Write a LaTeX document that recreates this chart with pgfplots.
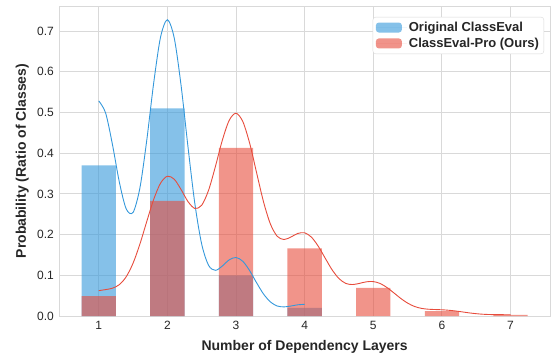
\documentclass[border=0pt]{standalone}
\usepackage{fontspec}
\setmainfont{Liberation Sans}
\usepackage{pgfplots}
\pgfplotsset{compat=1.18}
\definecolor{cblue}{HTML}{3498DB}
\definecolor{cred}{HTML}{E74C3C}
\definecolor{gridc}{HTML}{D9D9D9}
\definecolor{txt}{HTML}{262626}
\begin{document}
\begin{tikzpicture}
\begin{axis}[
  scale only axis, width=490.7pt, height=310pt,
  xmin=0.425, xmax=7.575, ymin=0, ymax=0.7615,
  xtick={1,2,3,4,5,6,7},
  ytick={0,0.1,0.2,0.3,0.4,0.5,0.6,0.7},
  yticklabel style={/pgf/number format/fixed, /pgf/number format/precision=1, /pgf/number format/fixed zerofill, xshift=-2pt},
  xticklabel style={yshift=-2pt},
  /pgf/number format/assume math mode=true,
  tick label style={font=\fontsize{12}{14}\selectfont, text=txt},
  major tick length=0pt,
  grid=major,
  major grid style={gridc, line width=0.9pt},
  axis line style={gridc, line width=0.9pt},
  xlabel={Number of Dependency Layers},
  ylabel={Probability (Ratio of Classes)},
  label style={font=\bfseries\fontsize{14}{16}\selectfont, text=txt},
  xlabel style={at={(axis description cs:0.5,-0.1)}, anchor=center},
  ylabel style={at={(axis description cs:-0.0754,0.5)}, anchor=center},
  legend cell align=left,
  legend style={font=\bfseries\fontsize{13}{15}\selectfont, text=txt, draw=gridc, rounded corners=3pt,
    fill=white, at={(rel axis cs:0.988,0.965)}, anchor=north east,
    inner xsep=3pt, inner ysep=3pt, row sep=1pt},
]
\addplot[ybar, bar width=0.5, bar shift=0pt, draw=none, fill=cblue, fill opacity=0.6,
  legend image code/.code={\fill[cblue, fill opacity=0.6] (0pt,-5pt) rectangle (26pt,5pt); \path (0pt,0pt) -- (31pt,0pt);}]
  coordinates {(1,0.37)(2,0.51)(3,0.10)(4,0.02)};
\addlegendentry{Original ClassEval}
\addplot[ybar, bar width=0.5, bar shift=0pt, draw=none, fill=cred, fill opacity=0.6,
  legend image code/.code={\fill[cred, fill opacity=0.6] (0pt,-5pt) rectangle (26pt,5pt); \path (0pt,0pt) -- (31pt,0pt);}]
  coordinates {(1,0.049)(2,0.283)(3,0.413)(4,0.166)(5,0.069)(6,0.012)(7,0.0025)};
\addlegendentry{ClassEval-Pro (Ours)}
\addplot[cblue, line width=0.9pt, smooth, forget plot] coordinates {
(1.0,0.5284)(1.1,0.4987)(1.2,0.4207)(1.3,0.3288)(1.4,0.2631)(1.5,0.2546)(1.6,0.3150)(1.7,0.4325)(1.8,0.5719)(1.9,0.6848)
(2.0,0.7277)(2.1,0.6827)(2.2,0.5655)(2.3,0.4156)(2.4,0.2762)(2.5,0.1764)(2.6,0.1245)(2.7,0.1122)(2.8,0.1227)(2.9,0.1379)
(3.0,0.1438)(3.1,0.1342)(3.2,0.1110)(3.3,0.0816)(3.4,0.0543)(3.5,0.0347)(3.6,0.0246)(3.7,0.0224)(3.8,0.0245)(3.9,0.0275)
(4.0,0.0287)};
\addplot[cred, line width=0.9pt, smooth, forget plot] coordinates {
(1.0,0.0623)(1.1,0.0649)(1.2,0.0683)(1.3,0.0771)(1.4,0.0964)(1.5,0.1298)(1.6,0.1770)(1.7,0.2325)(1.8,0.2862)(1.9,0.3262)
(2.0,0.3434)(2.1,0.3359)(2.2,0.3105)(2.3,0.2811)(2.4,0.2641)(2.5,0.2721)(2.6,0.3089)(2.7,0.3675)(2.8,0.4314)(2.9,0.4804)
(3.0,0.4981)(3.1,0.4773)(3.2,0.4235)(3.3,0.3518)(3.4,0.2809)(3.5,0.2264)(3.6,0.1958)(3.7,0.1879)(3.8,0.1940)(3.9,0.2028)
(4.0,0.2044)(4.1,0.1935)(4.2,0.1710)(4.3,0.1419)(4.4,0.1135)(4.5,0.0919)(4.6,0.0800)(4.7,0.0773)(4.8,0.0802)(4.9,0.0840)
(5.0,0.0846)(5.1,0.0799)(5.2,0.0699)(5.3,0.0568)(5.4,0.0432)(5.5,0.0317)(5.6,0.0235)(5.7,0.0188)(5.8,0.0167)(5.9,0.0159)
(6.0,0.0153)(6.1,0.0141)(6.2,0.0123)(6.3,0.0100)(6.4,0.0076)(6.5,0.0057)(6.6,0.0043)(6.7,0.0036)(6.8,0.0033)(6.9,0.0032)
(7.0,0.0032)};
\end{axis}
\pgfresetboundingbox
\path[use as bounding box] (-59.3pt,-44pt) rectangle (492.7pt,316pt);
\end{tikzpicture}
\end{document}
